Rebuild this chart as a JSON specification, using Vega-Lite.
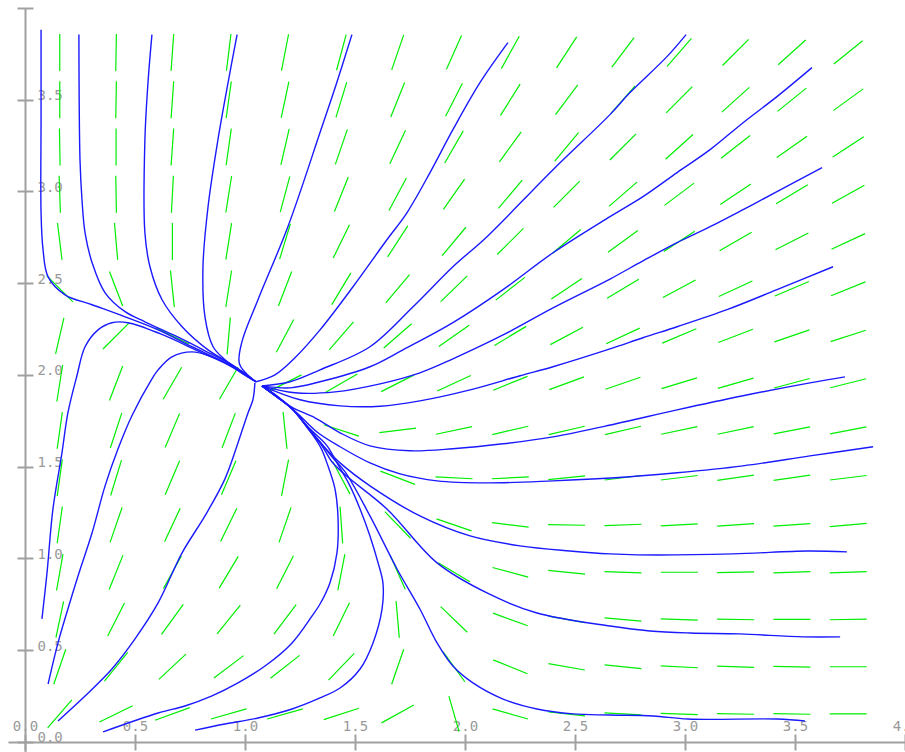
{
"$schema": "https://vega.github.io/schema/vega-lite/v6.json",
"width": 897, "height": 744,
"padding": {"left": 8, "top": 8, "right": 0, "bottom": 0},
"autosize": {"type": "none"},
"background": "white",
"config": {"view": {"stroke": null}},
"datasets": {
"field": [
{"x":0.158,"y":0.153,"a":-49},{"x":0.158,"y":0.410,"a":-71},{"x":0.158,"y":0.668,"a":-78},{"x":0.158,"y":0.925,"a":-80},{"x":0.158,"y":1.183,"a":-82},{"x":0.158,"y":1.440,"a":-82},{"x":0.158,"y":1.698,"a":-82},{"x":0.158,"y":1.955,"a":-81},{"x":0.158,"y":2.213,"a":-77},{"x":0.158,"y":2.470,"a":45},{"x":0.158,"y":2.728,"a":83},{"x":0.158,"y":2.985,"a":88},{"x":0.158,"y":3.243,"a":89},{"x":0.158,"y":3.500,"a":90},{"x":0.158,"y":3.758,"a":90},
{"x":0.414,"y":0.153,"a":-26},{"x":0.414,"y":0.410,"a":-51},{"x":0.414,"y":0.668,"a":-63},{"x":0.414,"y":0.925,"a":-68},{"x":0.414,"y":1.183,"a":-71},{"x":0.414,"y":1.440,"a":-73},{"x":0.414,"y":1.698,"a":-72},{"x":0.414,"y":1.955,"a":-69},{"x":0.414,"y":2.213,"a":-45},{"x":0.414,"y":2.470,"a":69},{"x":0.414,"y":2.728,"a":85},{"x":0.414,"y":2.985,"a":89},{"x":0.414,"y":3.243,"a":90},{"x":0.414,"y":3.500,"a":-89},{"x":0.414,"y":3.758,"a":-89},
{"x":0.670,"y":0.153,"a":-20},{"x":0.670,"y":0.410,"a":-43},{"x":0.670,"y":0.668,"a":-54},{"x":0.670,"y":0.925,"a":-61},{"x":0.670,"y":1.183,"a":-65},{"x":0.670,"y":1.440,"a":-67},{"x":0.670,"y":1.698,"a":-67},{"x":0.670,"y":1.955,"a":-60},{"x":0.670,"y":2.213,"a":26},{"x":0.670,"y":2.470,"a":84},{"x":0.670,"y":2.728,"a":90},{"x":0.670,"y":2.985,"a":-87},{"x":0.670,"y":3.243,"a":-86},{"x":0.670,"y":3.500,"a":-86},{"x":0.670,"y":3.758,"a":-86},
{"x":0.926,"y":0.153,"a":-16},{"x":0.926,"y":0.410,"a":-37},{"x":0.926,"y":0.668,"a":-51},{"x":0.926,"y":0.925,"a":-59},{"x":0.926,"y":1.183,"a":-64},{"x":0.926,"y":1.440,"a":-67},{"x":0.926,"y":1.698,"a":-69},{"x":0.926,"y":1.955,"a":-60},{"x":0.926,"y":2.213,"a":-85},{"x":0.926,"y":2.470,"a":-81},{"x":0.926,"y":2.728,"a":-81},{"x":0.926,"y":2.985,"a":-81},{"x":0.926,"y":3.243,"a":-82},{"x":0.926,"y":3.500,"a":-82},{"x":0.926,"y":3.758,"a":-83},
{"x":1.182,"y":0.153,"a":-16},{"x":1.182,"y":0.410,"a":-38},{"x":1.182,"y":0.668,"a":-53},{"x":1.182,"y":0.925,"a":-63},{"x":1.182,"y":1.183,"a":-71},{"x":1.182,"y":1.440,"a":-79},{"x":1.182,"y":1.698,"a":84},{"x":1.182,"y":1.955,"a":-27},{"x":1.182,"y":2.213,"a":-62},{"x":1.182,"y":2.470,"a":-69},{"x":1.182,"y":2.728,"a":-73},{"x":1.182,"y":2.985,"a":-75},{"x":1.182,"y":3.243,"a":-77},{"x":1.182,"y":3.500,"a":-78},{"x":1.182,"y":3.758,"a":-79},
{"x":1.438,"y":0.153,"a":-18},{"x":1.438,"y":0.410,"a":-46},{"x":1.438,"y":0.668,"a":-64},{"x":1.438,"y":0.925,"a":-79},{"x":1.438,"y":1.183,"a":86},{"x":1.438,"y":1.440,"a":62},{"x":1.438,"y":1.698,"a":18},{"x":1.438,"y":1.955,"a":-30},{"x":1.438,"y":2.213,"a":-49},{"x":1.438,"y":2.470,"a":-59},{"x":1.438,"y":2.728,"a":-64},{"x":1.438,"y":2.985,"a":-68},{"x":1.438,"y":3.243,"a":-71},{"x":1.438,"y":3.500,"a":-73},{"x":1.438,"y":3.758,"a":-75},
{"x":1.694,"y":0.153,"a":-29},{"x":1.694,"y":0.410,"a":-71},{"x":1.694,"y":0.668,"a":85},{"x":1.694,"y":0.925,"a":66},{"x":1.694,"y":1.183,"a":46},{"x":1.694,"y":1.440,"a":21},{"x":1.694,"y":1.698,"a":-7},{"x":1.694,"y":1.955,"a":-27},{"x":1.694,"y":2.213,"a":-41},{"x":1.694,"y":2.470,"a":-50},{"x":1.694,"y":2.728,"a":-57},{"x":1.694,"y":2.985,"a":-62},{"x":1.694,"y":3.243,"a":-65},{"x":1.694,"y":3.500,"a":-68},{"x":1.694,"y":3.758,"a":-71},
{"x":1.950,"y":0.153,"a":74},{"x":1.950,"y":0.410,"a":54},{"x":1.950,"y":0.668,"a":44},{"x":1.950,"y":0.925,"a":31},{"x":1.950,"y":1.183,"a":19},{"x":1.950,"y":1.440,"a":3},{"x":1.950,"y":1.698,"a":-12},{"x":1.950,"y":1.955,"a":-25},{"x":1.950,"y":2.213,"a":-35},{"x":1.950,"y":2.470,"a":-44},{"x":1.950,"y":2.728,"a":-50},{"x":1.950,"y":2.985,"a":-55},{"x":1.950,"y":3.243,"a":-60},{"x":1.950,"y":3.500,"a":-63},{"x":1.950,"y":3.758,"a":-66},
{"x":2.206,"y":0.153,"a":16},{"x":2.206,"y":0.410,"a":22},{"x":2.206,"y":0.668,"a":20},{"x":2.206,"y":0.925,"a":15},{"x":2.206,"y":1.183,"a":7},{"x":2.206,"y":1.440,"a":-3},{"x":2.206,"y":1.698,"a":-13},{"x":2.206,"y":1.955,"a":-22},{"x":2.206,"y":2.213,"a":-31},{"x":2.206,"y":2.470,"a":-38},{"x":2.206,"y":2.728,"a":-45},{"x":2.206,"y":2.985,"a":-50},{"x":2.206,"y":3.243,"a":-54},{"x":2.206,"y":3.500,"a":-58},{"x":2.206,"y":3.758,"a":-61},
{"x":2.462,"y":0.153,"a":6},{"x":2.462,"y":0.410,"a":10},{"x":2.462,"y":0.668,"a":10},{"x":2.462,"y":0.925,"a":6},{"x":2.462,"y":1.183,"a":1},{"x":2.462,"y":1.440,"a":-6},{"x":2.462,"y":1.698,"a":-13},{"x":2.462,"y":1.955,"a":-20},{"x":2.462,"y":2.213,"a":-28},{"x":2.462,"y":2.470,"a":-34},{"x":2.462,"y":2.728,"a":-40},{"x":2.462,"y":2.985,"a":-45},{"x":2.462,"y":3.243,"a":-50},{"x":2.462,"y":3.500,"a":-53},{"x":2.462,"y":3.758,"a":-57},
{"x":2.718,"y":0.153,"a":3},{"x":2.718,"y":0.410,"a":6},{"x":2.718,"y":0.668,"a":5},{"x":2.718,"y":0.925,"a":2},{"x":2.718,"y":1.183,"a":-2},{"x":2.718,"y":1.440,"a":-7},{"x":2.718,"y":1.698,"a":-13},{"x":2.718,"y":1.955,"a":-19},{"x":2.718,"y":2.213,"a":-25},{"x":2.718,"y":2.470,"a":-31},{"x":2.718,"y":2.728,"a":-36},{"x":2.718,"y":2.985,"a":-41},{"x":2.718,"y":3.243,"a":-45},{"x":2.718,"y":3.500,"a":-49},{"x":2.718,"y":3.758,"a":-53},
{"x":2.974,"y":0.153,"a":2},{"x":2.974,"y":0.410,"a":3},{"x":2.974,"y":0.668,"a":2},{"x":2.974,"y":0.925,"a":0},{"x":2.974,"y":1.183,"a":-3},{"x":2.974,"y":1.440,"a":-7},{"x":2.974,"y":1.698,"a":-12},{"x":2.974,"y":1.955,"a":-17},{"x":2.974,"y":2.213,"a":-23},{"x":2.974,"y":2.470,"a":-28},{"x":2.974,"y":2.728,"a":-33},{"x":2.974,"y":2.985,"a":-37},{"x":2.974,"y":3.243,"a":-42},{"x":2.974,"y":3.500,"a":-45},{"x":2.974,"y":3.758,"a":-49},
{"x":3.230,"y":0.153,"a":1},{"x":3.230,"y":0.410,"a":2},{"x":3.230,"y":0.668,"a":1},{"x":3.230,"y":0.925,"a":-1},{"x":3.230,"y":1.183,"a":-4},{"x":3.230,"y":1.440,"a":-8},{"x":3.230,"y":1.698,"a":-12},{"x":3.230,"y":1.955,"a":-16},{"x":3.230,"y":2.213,"a":-21},{"x":3.230,"y":2.470,"a":-25},{"x":3.230,"y":2.728,"a":-30},{"x":3.230,"y":2.985,"a":-34},{"x":3.230,"y":3.243,"a":-38},{"x":3.230,"y":3.500,"a":-42},{"x":3.230,"y":3.758,"a":-45},
{"x":3.486,"y":0.153,"a":1},{"x":3.486,"y":0.410,"a":1},{"x":3.486,"y":0.668,"a":0},{"x":3.486,"y":0.925,"a":-2},{"x":3.486,"y":1.183,"a":-4},{"x":3.486,"y":1.440,"a":-8},{"x":3.486,"y":1.698,"a":-11},{"x":3.486,"y":1.955,"a":-15},{"x":3.486,"y":2.213,"a":-19},{"x":3.486,"y":2.470,"a":-23},{"x":3.486,"y":2.728,"a":-27},{"x":3.486,"y":2.985,"a":-31},{"x":3.486,"y":3.243,"a":-35},{"x":3.486,"y":3.500,"a":-39},{"x":3.486,"y":3.758,"a":-42},
{"x":3.742,"y":0.153,"a":0},{"x":3.742,"y":0.410,"a":0},{"x":3.742,"y":0.668,"a":-1},{"x":3.742,"y":0.925,"a":-2},{"x":3.742,"y":1.183,"a":-5},{"x":3.742,"y":1.440,"a":-7},{"x":3.742,"y":1.698,"a":-11},{"x":3.742,"y":1.955,"a":-14},{"x":3.742,"y":2.213,"a":-18},{"x":3.742,"y":2.470,"a":-22},{"x":3.742,"y":2.728,"a":-25},{"x":3.742,"y":2.985,"a":-29},{"x":3.742,"y":3.243,"a":-33},{"x":3.742,"y":3.500,"a":-36},{"x":3.742,"y":3.758,"a":-39}
],
"curves": [
{"c":"C1","o":0,"x":0.073,"y":3.882},{"c":"C1","o":1,"x":0.073,"y":3.392},{"c":"C1","o":2,"x":0.073,"y":2.884},{"c":"C1","o":3,"x":0.082,"y":2.683},{"c":"C1","o":4,"x":0.105,"y":2.535},{"c":"C1","o":5,"x":0.182,"y":2.437},{"c":"C1","o":6,"x":0.305,"y":2.383},{"c":"C1","o":7,"x":0.455,"y":2.317},{"c":"C1","o":8,"x":0.605,"y":2.246},{"c":"C1","o":9,"x":0.759,"y":2.154},{"c":"C1","o":10,"x":0.909,"y":2.067},{"c":"C1","o":11,"x":1.05,"y":1.963},
{"c":"C2","o":0,"x":0.245,"y":3.855},{"c":"C2","o":1,"x":0.25,"y":3.173},{"c":"C2","o":2,"x":0.259,"y":2.955},{"c":"C2","o":3,"x":0.273,"y":2.775},{"c":"C2","o":4,"x":0.305,"y":2.612},{"c":"C2","o":5,"x":0.364,"y":2.448},{"c":"C2","o":6,"x":0.455,"y":2.345},{"c":"C2","o":7,"x":0.545,"y":2.29},{"c":"C2","o":8,"x":0.682,"y":2.214},{"c":"C2","o":9,"x":0.818,"y":2.132},{"c":"C2","o":10,"x":0.955,"y":2.045},{"c":"C2","o":11,"x":1.05,"y":1.963},
{"c":"C3","o":0,"x":0.577,"y":3.855},{"c":"C3","o":1,"x":0.559,"y":3.593},{"c":"C3","o":2,"x":0.545,"y":3.282},{"c":"C3","o":3,"x":0.545,"y":2.775},{"c":"C3","o":4,"x":0.568,"y":2.59},{"c":"C3","o":5,"x":0.623,"y":2.41},{"c":"C3","o":6,"x":0.714,"y":2.263},{"c":"C3","o":7,"x":0.832,"y":2.137},{"c":"C3","o":8,"x":0.941,"y":2.056},{"c":"C3","o":9,"x":1.05,"y":1.963},
{"c":"C4","o":0,"x":0.964,"y":3.855},{"c":"C4","o":1,"x":0.923,"y":3.593},{"c":"C4","o":2,"x":0.877,"y":3.282},{"c":"C4","o":3,"x":0.832,"y":2.917},{"c":"C4","o":4,"x":0.809,"y":2.59},{"c":"C4","o":5,"x":0.818,"y":2.317},{"c":"C4","o":6,"x":0.855,"y":2.154},{"c":"C4","o":7,"x":0.909,"y":2.083},{"c":"C4","o":8,"x":0.977,"y":2.017},{"c":"C4","o":9,"x":1.05,"y":1.963},
{"c":"C5","o":0,"x":1.486,"y":3.855},{"c":"C5","o":1,"x":1.414,"y":3.582},{"c":"C5","o":2,"x":1.341,"y":3.321},{"c":"C5","o":3,"x":1.195,"y":2.808},{"c":"C5","o":4,"x":1.059,"y":2.41},{"c":"C5","o":5,"x":0.985,"y":2.176},{"c":"C5","o":6,"x":0.975,"y":2.06},{"c":"C5","o":7,"x":1.032,"y":1.979},
{"c":"C6","o":0,"x":2.195,"y":3.811},{"c":"C6","o":1,"x":2.068,"y":3.593},{"c":"C6","o":2,"x":1.945,"y":3.337},{"c":"C6","o":3,"x":1.841,"y":3.103},{"c":"C6","o":4,"x":1.736,"y":2.884},{"c":"C6","o":5,"x":1.645,"y":2.737},{"c":"C6","o":6,"x":1.491,"y":2.481},{"c":"C6","o":7,"x":1.341,"y":2.246},{"c":"C6","o":8,"x":1.227,"y":2.094},{"c":"C6","o":9,"x":1.136,"y":2.001},{"c":"C6","o":10,"x":1.05,"y":1.963},
{"c":"C7","o":0,"x":3.005,"y":3.855},{"c":"C7","o":1,"x":2.918,"y":3.735},{"c":"C7","o":2,"x":2.75,"y":3.539},{"c":"C7","o":3,"x":2.659,"y":3.419},{"c":"C7","o":4,"x":2.4,"y":3.119},{"c":"C7","o":5,"x":2.1,"y":2.754},{"c":"C7","o":6,"x":1.945,"y":2.59},{"c":"C7","o":7,"x":1.764,"y":2.372},{"c":"C7","o":8,"x":1.568,"y":2.154},{"c":"C7","o":9,"x":1.341,"y":2.028},{"c":"C7","o":10,"x":1.205,"y":1.963},{"c":"C7","o":11,"x":1.077,"y":1.941},
{"c":"C8","o":0,"x":3.577,"y":3.675},{"c":"C8","o":1,"x":3.418,"y":3.517},{"c":"C8","o":2,"x":3.264,"y":3.375},{"c":"C8","o":3,"x":3.114,"y":3.228},{"c":"C8","o":4,"x":2.964,"y":3.103},{"c":"C8","o":5,"x":2.809,"y":2.972},{"c":"C8","o":6,"x":2.659,"y":2.863},{"c":"C8","o":7,"x":2.4,"y":2.666},{"c":"C8","o":8,"x":2.173,"y":2.465},{"c":"C8","o":9,"x":1.945,"y":2.285},{"c":"C8","o":10,"x":1.718,"y":2.137},{"c":"C8","o":11,"x":1.568,"y":2.045},{"c":"C8","o":12,"x":1.341,"y":1.963},{"c":"C8","o":13,"x":1.205,"y":1.93},{"c":"C8","o":14,"x":1.077,"y":1.941},
{"c":"C9","o":0,"x":3.623,"y":3.13},{"c":"C9","o":1,"x":3.418,"y":2.999},{"c":"C9","o":2,"x":3.264,"y":2.901},{"c":"C9","o":3,"x":3.114,"y":2.808},{"c":"C9","o":4,"x":2.964,"y":2.721},{"c":"C9","o":5,"x":2.809,"y":2.622},{"c":"C9","o":6,"x":2.659,"y":2.523},{"c":"C9","o":7,"x":2.4,"y":2.366},{"c":"C9","o":8,"x":2.173,"y":2.218},{"c":"C9","o":9,"x":1.945,"y":2.088},{"c":"C9","o":10,"x":1.795,"y":2.012},{"c":"C9","o":11,"x":1.614,"y":1.952},{"c":"C9","o":12,"x":1.409,"y":1.908},{"c":"C9","o":13,"x":1.227,"y":1.903},{"c":"C9","o":14,"x":1.077,"y":1.941},
{"c":"C10","o":0,"x":3.673,"y":2.59},{"c":"C10","o":1,"x":3.418,"y":2.465},{"c":"C10","o":2,"x":3.191,"y":2.356},{"c":"C10","o":3,"x":2.964,"y":2.263},{"c":"C10","o":4,"x":2.809,"y":2.203},{"c":"C10","o":5,"x":2.659,"y":2.142},{"c":"C10","o":6,"x":2.4,"y":2.045},{"c":"C10","o":7,"x":2.25,"y":1.996},{"c":"C10","o":8,"x":2.023,"y":1.919},{"c":"C10","o":9,"x":1.795,"y":1.859},{"c":"C10","o":10,"x":1.614,"y":1.83},{"c":"C10","o":11,"x":1.432,"y":1.832},{"c":"C10","o":12,"x":1.25,"y":1.865},{"c":"C10","o":13,"x":1.077,"y":1.941},
{"c":"C11","o":0,"x":3.727,"y":1.99},{"c":"C11","o":1,"x":3.568,"y":1.957},{"c":"C11","o":2,"x":3.264,"y":1.887},{"c":"C11","o":3,"x":2.964,"y":1.81},{"c":"C11","o":4,"x":2.682,"y":1.733},{"c":"C11","o":5,"x":2.4,"y":1.663},{"c":"C11","o":6,"x":2.173,"y":1.625},{"c":"C11","o":7,"x":1.945,"y":1.598},{"c":"C11","o":8,"x":1.75,"y":1.587},{"c":"C11","o":9,"x":1.568,"y":1.614},{"c":"C11","o":10,"x":1.432,"y":1.685},{"c":"C11","o":11,"x":1.318,"y":1.767},{"c":"C11","o":12,"x":1.218,"y":1.821},{"c":"C11","o":13,"x":1.145,"y":1.881},{"c":"C11","o":14,"x":1.077,"y":1.941},
{"c":"C12","o":0,"x":3.855,"y":1.609},{"c":"C12","o":1,"x":3.568,"y":1.559},{"c":"C12","o":2,"x":3.264,"y":1.505},{"c":"C12","o":3,"x":2.964,"y":1.467},{"c":"C12","o":4,"x":2.682,"y":1.44},{"c":"C12","o":5,"x":2.4,"y":1.423},{"c":"C12","o":6,"x":2.1,"y":1.412},{"c":"C12","o":7,"x":1.873,"y":1.423},{"c":"C12","o":8,"x":1.705,"y":1.461},{"c":"C12","o":9,"x":1.568,"y":1.521},{"c":"C12","o":10,"x":1.432,"y":1.609},{"c":"C12","o":11,"x":1.332,"y":1.685},{"c":"C12","o":12,"x":1.259,"y":1.767},{"c":"C12","o":13,"x":1.205,"y":1.827},{"c":"C12","o":14,"x":1.141,"y":1.887},{"c":"C12","o":15,"x":1.077,"y":1.941},
{"c":"C13","o":0,"x":3.736,"y":1.036},{"c":"C13","o":1,"x":3.555,"y":1.041},{"c":"C13","o":2,"x":3.218,"y":1.025},{"c":"C13","o":3,"x":2.782,"y":1.02},{"c":"C13","o":4,"x":2.659,"y":1.025},{"c":"C13","o":5,"x":2.477,"y":1.041},{"c":"C13","o":6,"x":2.25,"y":1.069},{"c":"C13","o":7,"x":2.023,"y":1.123},{"c":"C13","o":8,"x":1.795,"y":1.232},{"c":"C13","o":9,"x":1.568,"y":1.396},{"c":"C13","o":10,"x":1.432,"y":1.521},{"c":"C13","o":11,"x":1.355,"y":1.614},{"c":"C13","o":12,"x":1.291,"y":1.707},{"c":"C13","o":13,"x":1.214,"y":1.816},{"c":"C13","o":14,"x":1.145,"y":1.881},{"c":"C13","o":15,"x":1.077,"y":1.941},
{"c":"C14","o":0,"x":3.705,"y":0.573},{"c":"C14","o":1,"x":3.536,"y":0.573},{"c":"C14","o":2,"x":3.25,"y":0.589},{"c":"C14","o":3,"x":3.023,"y":0.594},{"c":"C14","o":4,"x":2.841,"y":0.605},{"c":"C14","o":5,"x":2.659,"y":0.632},{"c":"C14","o":6,"x":2.327,"y":0.703},{"c":"C14","o":7,"x":2.1,"y":0.812},{"c":"C14","o":8,"x":1.873,"y":0.976},{"c":"C14","o":9,"x":1.645,"y":1.27},{"c":"C14","o":10,"x":1.455,"y":1.456},{"c":"C14","o":11,"x":1.395,"y":1.527},{"c":"C14","o":12,"x":1.35,"y":1.614},{"c":"C14","o":13,"x":1.291,"y":1.701},{"c":"C14","o":14,"x":1.218,"y":1.81},{"c":"C14","o":15,"x":1.145,"y":1.881},{"c":"C14","o":16,"x":1.077,"y":1.941},
{"c":"C15","o":0,"x":3.545,"y":0.115},{"c":"C15","o":1,"x":3.418,"y":0.125},{"c":"C15","o":2,"x":3.014,"y":0.125},{"c":"C15","o":3,"x":2.855,"y":0.142},{"c":"C15","o":4,"x":2.659,"y":0.147},{"c":"C15","o":5,"x":2.491,"y":0.153},{"c":"C15","o":6,"x":2.327,"y":0.18},{"c":"C15","o":7,"x":2.173,"y":0.234},{"c":"C15","o":8,"x":2.036,"y":0.322},{"c":"C15","o":9,"x":1.945,"y":0.414},{"c":"C15","o":10,"x":1.873,"y":0.54},{"c":"C15","o":11,"x":1.795,"y":0.725},{"c":"C15","o":12,"x":1.691,"y":0.943},{"c":"C15","o":13,"x":1.568,"y":1.232},{"c":"C15","o":14,"x":1.455,"y":1.472},{"c":"C15","o":15,"x":1.395,"y":1.554},{"c":"C15","o":16,"x":1.341,"y":1.636},{"c":"C15","o":17,"x":1.286,"y":1.712},{"c":"C15","o":18,"x":1.214,"y":1.816},{"c":"C15","o":19,"x":1.145,"y":1.887},{"c":"C15","o":20,"x":1.077,"y":1.941},
{"c":"C16","o":0,"x":0.077,"y":0.671},{"c":"C16","o":1,"x":0.1,"y":0.921},{"c":"C16","o":2,"x":0.127,"y":1.27},{"c":"C16","o":3,"x":0.168,"y":1.576},{"c":"C16","o":4,"x":0.195,"y":1.794},{"c":"C16","o":5,"x":0.236,"y":1.996},{"c":"C16","o":6,"x":0.273,"y":2.154},{"c":"C16","o":7,"x":0.332,"y":2.246},{"c":"C16","o":8,"x":0.395,"y":2.285},{"c":"C16","o":9,"x":0.468,"y":2.285},{"c":"C16","o":10,"x":0.614,"y":2.225},{"c":"C16","o":11,"x":0.795,"y":2.126},{"c":"C16","o":12,"x":0.932,"y":2.05},{"c":"C16","o":13,"x":1.05,"y":1.963},
{"c":"C17","o":0,"x":0.105,"y":0.316},{"c":"C17","o":1,"x":0.15,"y":0.54},{"c":"C17","o":2,"x":0.195,"y":0.725},{"c":"C17","o":3,"x":0.241,"y":0.905},{"c":"C17","o":4,"x":0.305,"y":1.14},{"c":"C17","o":5,"x":0.364,"y":1.396},{"c":"C17","o":6,"x":0.423,"y":1.598},{"c":"C17","o":7,"x":0.486,"y":1.778},{"c":"C17","o":8,"x":0.577,"y":1.979},{"c":"C17","o":9,"x":0.605,"y":2.028},{"c":"C17","o":10,"x":0.668,"y":2.099},{"c":"C17","o":11,"x":0.759,"y":2.126},{"c":"C17","o":12,"x":0.85,"y":2.099},{"c":"C17","o":13,"x":0.955,"y":2.039},{"c":"C17","o":14,"x":1.05,"y":1.963},
{"c":"C18","o":0,"x":0.15,"y":0.115},{"c":"C18","o":1,"x":0.273,"y":0.251},{"c":"C18","o":2,"x":0.395,"y":0.398},{"c":"C18","o":3,"x":0.5,"y":0.562},{"c":"C18","o":4,"x":0.605,"y":0.758},{"c":"C18","o":5,"x":0.714,"y":1.031},{"c":"C18","o":6,"x":0.818,"y":1.232},{"c":"C18","o":7,"x":0.909,"y":1.434},{"c":"C18","o":8,"x":0.968,"y":1.63},{"c":"C18","o":9,"x":1.014,"y":1.794},{"c":"C18","o":10,"x":1.036,"y":1.865},{"c":"C18","o":11,"x":1.045,"y":1.957},
{"c":"D","o":0,"x":0.355,"y":0.055},{"c":"D","o":1,"x":0.605,"y":0.158},{"c":"D","o":2,"x":0.727,"y":0.196},{"c":"D","o":3,"x":0.85,"y":0.251},{"c":"D","o":4,"x":0.968,"y":0.322},{"c":"D","o":5,"x":1.091,"y":0.414},{"c":"D","o":6,"x":1.214,"y":0.54},{"c":"D","o":7,"x":1.305,"y":0.687},{"c":"D","o":8,"x":1.341,"y":0.752},{"c":"D","o":9,"x":1.386,"y":0.867},{"c":"D","o":10,"x":1.418,"y":1.031},{"c":"D","o":11,"x":1.423,"y":1.216},{"c":"D","o":12,"x":1.409,"y":1.38},{"c":"D","o":13,"x":1.377,"y":1.505},{"c":"D","o":14,"x":1.345,"y":1.603},{"c":"D","o":15,"x":1.291,"y":1.701},{"c":"D","o":16,"x":1.218,"y":1.81},{"c":"D","o":17,"x":1.145,"y":1.881},{"c":"D","o":18,"x":1.077,"y":1.941},
{"c":"E","o":0,"x":0.773,"y":0.065},{"c":"E","o":1,"x":0.909,"y":0.098},{"c":"E","o":2,"x":1.059,"y":0.131},{"c":"E","o":3,"x":1.214,"y":0.18},{"c":"E","o":4,"x":1.341,"y":0.24},{"c":"E","o":5,"x":1.432,"y":0.294},{"c":"E","o":6,"x":1.523,"y":0.398},{"c":"E","o":7,"x":1.582,"y":0.54},{"c":"E","o":8,"x":1.623,"y":0.725},{"c":"E","o":9,"x":1.627,"y":0.867},{"c":"E","o":10,"x":1.605,"y":0.976},{"c":"E","o":11,"x":1.568,"y":1.123},{"c":"E","o":12,"x":1.523,"y":1.27},{"c":"E","o":13,"x":1.477,"y":1.396},{"c":"E","o":14,"x":1.418,"y":1.521},{"c":"E","o":15,"x":1.373,"y":1.614},{"c":"E","o":16,"x":1.295,"y":1.707},{"c":"E","o":17,"x":1.218,"y":1.81},{"c":"E","o":18,"x":1.145,"y":1.881},{"c":"E","o":19,"x":1.077,"y":1.941}
]
},
"layer": [
{
"data": {"name": "field"},
"mark": {"type": "point", "shape": "M-1,0L1,0", "filled": false, "stroke": "#00ee00", "strokeWidth": 1.2, "size": 1369, "opacity": 1},
"encoding": {
"x": {"field": "x", "type": "quantitative", "scale": {"domain": [-0.07727, 4], "nice": false, "zero": false},
 "axis": {"orient": "bottom", "offset": -10, "values": [0,0.5,1,1.5,2,2.5,3,3.5,4], "format": ".1f", "tickSize": 8, "tickWidth": 2, "domainWidth": 2, "tickColor": "#a0a0a0", "domainColor": "#a0a0a0", "labelColor": "#999999", "labelFont": "DejaVu Sans Mono", "labelFontSize": 14, "labelPadding": -31, "labelFlush": false, "labelOverlap": false, "labelBound": false, "grid": false, "title": null}},
"y": {"field": "y", "type": "quantitative", "scale": {"domain": [-0.0545, 4], "nice": false, "zero": false},
 "axis": {"orient": "left", "offset": -17, "values": [0,0.5,1,1.5,2,2.5,3,3.5,4], "labelExpr": "datum.value >= 4 ? '' : format(datum.value, '.1f')", "tickSize": 8, "tickWidth": 2, "domainWidth": 2, "tickColor": "#a0a0a0", "domainColor": "#a0a0a0", "labelColor": "#999999", "labelFont": "DejaVu Sans Mono", "labelFontSize": 14, "labelAlign": "left", "labelBaseline": "alphabetic", "labelPadding": -20, "labelOverlap": false, "labelBound": false, "grid": false, "title": null}},
"angle": {"field": "a", "type": "quantitative", "scale": null}
}
},
{
"data": {"name": "curves"},
"mark": {"type": "line", "color": "#1a1aff", "strokeWidth": 1.4, "interpolate": "catmull-rom"},
"encoding": {
"x": {"field": "x", "type": "quantitative", "axis": {"orient": "bottom", "offset": -10, "values": [0,0.5,1,1.5,2,2.5,3,3.5,4], "tickSize": -8, "tickWidth": 2, "tickColor": "#a0a0a0", "labels": false, "domain": false, "grid": false, "title": null}},
"y": {"field": "y", "type": "quantitative", "axis": {"orient": "left", "offset": -17, "values": [0,0.5,1,1.5,2,2.5,3,3.5,4], "tickSize": -8, "tickWidth": 2, "tickColor": "#a0a0a0", "labels": false, "domain": false, "grid": false, "title": null}},
"detail": {"field": "c", "type": "nominal"},
"order": {"field": "o", "type": "quantitative"}
}
}
],
"resolve": {"axis": {"x": "independent", "y": "independent"}}
}
